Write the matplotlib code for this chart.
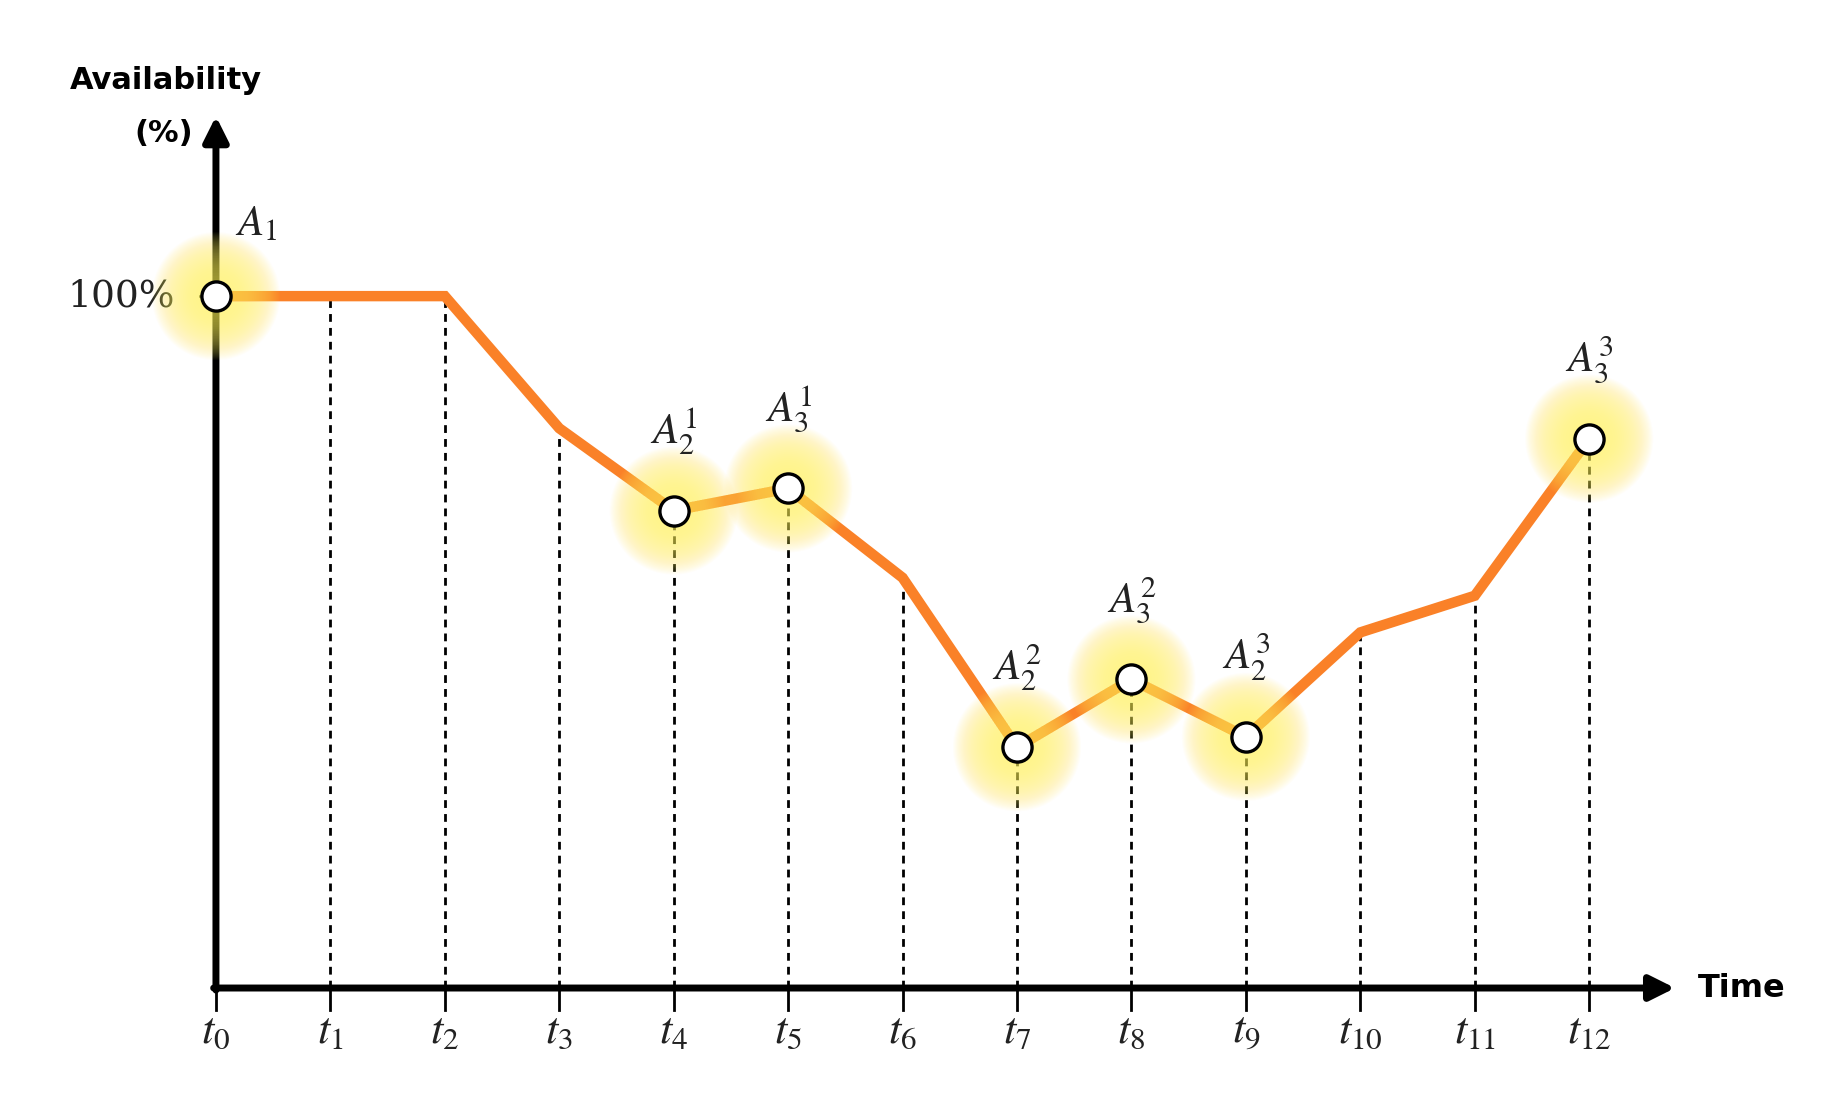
import numpy as np
import matplotlib.pyplot as plt

plt.rcParams['mathtext.fontset'] = 'stix'

# availability (%) at each time step t0..t12
times = list(range(13))
avail = [100, 100, 100, 80.9, 69.0, 72.2, 59.3, 34.8, 44.6, 36.3, 51.4, 56.7, 79.4]
tick_labels = [r'$t_{%d}$' % i for i in times]

# highlighted points and their labels
hl_idx = [0, 4, 5, 7, 8, 9, 12]
hl_labels = [r'$A_1$', r'$A_2^1$', r'$A_3^1$', r'$A_2^2$', r'$A_3^2$', r'$A_2^3$', r'$A_3^3$']

fig = plt.figure(figsize=(18.49, 11.10), dpi=100)
ax = fig.add_axes([0, 0, 1, 1])
ax.set_xlim(-1.887, 14.27)
ax.set_ylim(-17.63, 142.8)
ax.axis('off')

orange = '#FA8128'

# dashed drop lines and ticks
for t, a in zip(times[1:], avail[1:]):
    ax.plot([t, t], [0, a], color='black', lw=2, ls=(0, (2.8, 2.2)), zorder=1)
for t in times:
    ax.plot([t, t], [0, -3.2], color='black', lw=2, zorder=1)
ax.plot([-0.14, 0], [100, 100], color='black', lw=1.8, zorder=1)

# axes with arrows
ax.annotate('', xy=(12.75, 0), xytext=(-0.02, 0),
            arrowprops=dict(arrowstyle='-|>,head_length=1.5,head_width=0.75', lw=5, color='black', shrinkA=0, shrinkB=0), zorder=2)
ax.annotate('', xy=(0, 126), xytext=(0, -0.3),
            arrowprops=dict(arrowstyle='-|>,head_length=1.5,head_width=0.75', lw=5, color='black', shrinkA=0, shrinkB=0), zorder=2)

# main line
ax.plot(times, avail, color=orange, lw=7.5, solid_joinstyle='miter', zorder=3)

# soft glow around highlighted points
hx = [times[i] for i in hl_idx]
hy = [avail[i] for i in hl_idx]
for s in np.linspace(8500, 600, 30):
    ax.scatter(hx, hy, s=s, color='#FFF45C', alpha=0.035, edgecolors='none', zorder=4)

ax.plot(hx, hy, ls='none', marker='o', ms=21, mfc='white', mec='black', mew=2.4, zorder=5)

# point labels
offsets = [(0.35, 10.5), (0, 11.5), (0, 11.5), (0, 11.5), (0, 11.5), (0, 11.5), (0, 11.5)]
for (dx, dy), x, y, lab in zip(offsets, hx, hy, hl_labels):
    ax.text(x + dx, y + dy, lab, fontsize=31, ha='center', va='center', color='#222222', zorder=6)

# tick labels
for t, lab in zip(times, tick_labels):
    ax.text(t, -6.2, lab, fontsize=32, ha='center', va='center', color='#222222')

ax.text(-0.36, 100, '100%', fontsize=27, family='DejaVu Serif', ha='right', va='center', color='#222222')
ax.text(-0.44, 131.2, 'Availability', fontsize=22, fontweight='bold', ha='center', va='center')
ax.text(-0.46, 123.5, '(%)', fontsize=22, fontweight='bold', ha='center', va='center')
ax.text(12.95, 0, 'Time', fontsize=23, fontweight='bold', ha='left', va='center')

fig.savefig('out.png', dpi=100)
